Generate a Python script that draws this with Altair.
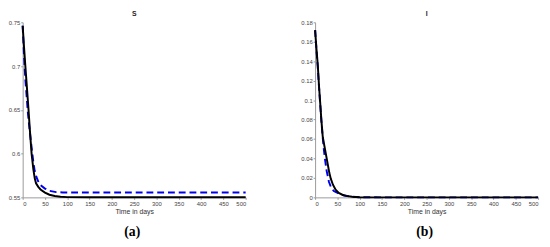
import altair as alt
import pandas as pd

# ---- data ----
s_black_t = [0, 3, 6, 10, 13, 16, 20, 24, 27, 30, 35, 40, 50, 60, 72, 85, 100, 150, 200, 300, 400, 500]
s_black_v = [0.746, 0.722, 0.700, 0.672, 0.651, 0.628, 0.600, 0.582, 0.572, 0.566, 0.562, 0.559,
             0.5555, 0.553, 0.5515, 0.5508, 0.5503, 0.5502, 0.5502, 0.5502, 0.5502, 0.5502]
s_blue_t = [0, 3, 6, 9, 12, 16, 20, 24, 27, 31, 35, 40, 50, 60, 75, 90, 100, 150, 200, 300, 400, 500]
s_blue_v = [0.746, 0.712, 0.685, 0.665, 0.645, 0.625, 0.607, 0.590, 0.580, 0.573, 0.568, 0.564,
            0.560, 0.5575, 0.556, 0.5556, 0.5555, 0.5555, 0.5555, 0.5555, 0.5555, 0.5555]

i_black_t = [0, 3, 6, 9, 11, 14, 17, 20, 24, 28, 32, 35, 40, 46, 53, 61, 70, 83, 100, 150, 200, 300, 400, 500]
i_black_v = [0.172, 0.153, 0.136, 0.113, 0.100, 0.080, 0.063, 0.055, 0.045, 0.035, 0.025, 0.0195,
             0.013, 0.0078, 0.0045, 0.0027, 0.0015, 0.0007, 0.0002, 0.0, 0.0, 0.0, 0.0, 0.0]
i_blue_t = [0, 3, 6, 9, 11, 14, 17, 20, 22, 26, 31, 36, 42, 53, 65, 80, 100, 150, 200, 300, 400, 500]
i_blue_v = [0.172, 0.152, 0.134, 0.112, 0.099, 0.079, 0.062, 0.048, 0.040, 0.027, 0.016, 0.010,
            0.0065, 0.004, 0.002, 0.0008, 0.0002, 0.0, 0.0, 0.0, 0.0, 0.0]

titles = ["S", "I"]
captions = ["(a)", "(b)"]
x_ticks = [0, 50, 100, 150, 200, 250, 300, 350, 400, 450, 500]
s_ticks = [0.55, 0.6, 0.65, 0.7, 0.75]
i_ticks = [0, 0.02, 0.04, 0.06, 0.08, 0.1, 0.12, 0.14, 0.16, 0.18]

W, H = 228, 179


def panel(title, caption, bt, bv, ut, uv, ydom, yticks):
    black = pd.DataFrame({"t": bt, "v": bv})
    blue = pd.DataFrame({"t": ut, "v": uv})
    xenc = alt.X("t:Q", scale=alt.Scale(domain=[0, 500], nice=False),
                 axis=alt.Axis(values=x_ticks, title="Time in days", format="d"))
    yenc = alt.Y("v:Q", scale=alt.Scale(domain=ydom, nice=False, zero=False),
                 axis=alt.Axis(values=yticks, title=None, format="~g"))
    l_blue = alt.Chart(blue).mark_line(color="#0000ee", strokeWidth=2, strokeDash=[7, 4]).encode(x=xenc, y=yenc)
    l_black = alt.Chart(black).mark_line(color="black", strokeWidth=2).encode(x=xenc, y=yenc)
    cap = alt.Chart(pd.DataFrame({"c": [caption]})).mark_text(
        font="Liberation Serif", fontSize=14, fontWeight="bold", color="black"
    ).encode(text="c:N", x=alt.value(W / 2 - 2), y=alt.value(H + 36))
    return alt.layer(l_blue, l_black, cap).properties(
        width=W, height=H,
        title=alt.TitleParams(title, fontSize=7, fontWeight="bold", offset=2),
    )


left = panel(titles[0], captions[0], s_black_t, s_black_v, s_blue_t, s_blue_v, [0.55, 0.75], s_ticks)
right = panel(titles[1], captions[1], i_black_t, i_black_v, i_blue_t, i_blue_v, [0, 0.18], i_ticks)

chart = alt.hconcat(left, right, spacing=52).properties(
    padding={"left": 0, "top": 0, "right": 0, "bottom": 0}
).configure_view(stroke=None).configure_axis(
    grid=False, domainColor="#999", tickColor="#999", tickSize=2,
    labelFontSize=6, labelColor="#444", labelPadding=1, labelFont="Liberation Sans",
    titleFontSize=7, titleFontWeight="normal", titleColor="#333", titlePadding=2,
    titleFont="Liberation Sans",
).configure_title(font="Liberation Sans", color="#222")

chart.save("out.html", embed_options={"renderer": "svg", "actions": False})
